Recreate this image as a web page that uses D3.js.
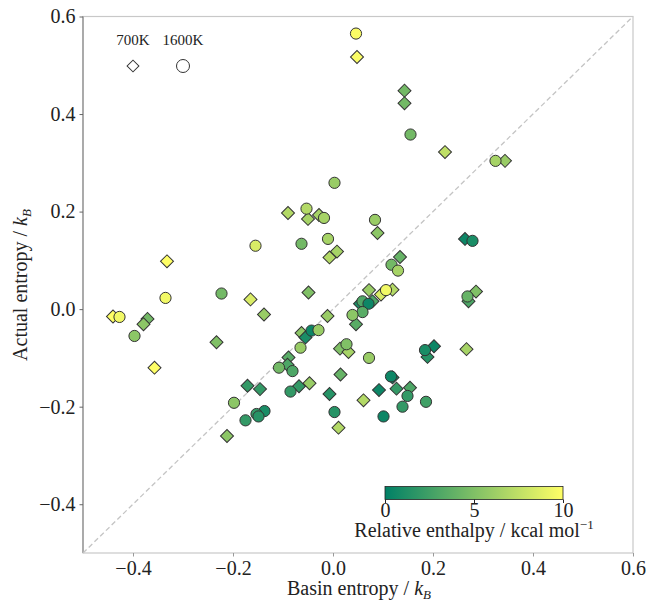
<!DOCTYPE html>
<html>
<head>
  <meta charset="utf-8">
  <title>Basin vs actual entropy</title>
  <script src="https://d3js.org/d3.v7.min.js"></script>
  <style>
    body, html { margin: 0; padding: 0; background: #fff; }
    svg { display: block; }
    text { font-family: "Liberation Serif", "DejaVu Serif", serif; fill: #222; }
  </style>
</head>
<body>
<svg width="646" height="602"></svg>
<script>
  // [basin entropy, actual entropy, relative enthalpy]
  const points700 = [
    [0.048, 0.517, 9.8], [0.143, 0.448, 4.5], [0.143, 0.422, 4.5], [0.224, 0.322, 7.5],
    [0.344, 0.304, 6.0], [-0.09, 0.197, 7.0], [-0.05, 0.185, 6.5], [-0.028, 0.193, 6.5],
    [0.008, 0.118, 6.5], [-0.007, 0.106, 7.0], [0.089, 0.156, 5.5], [0.264, 0.144, 0.5],
    [0.134, 0.107, 4.0], [-0.332, 0.098, 10], [-0.049, 0.034, 5.0], [-0.165, 0.020, 8.5],
    [-0.138, -0.011, 6.0], [-0.44, -0.015, 10], [-0.371, -0.020, 4.5], [-0.379, -0.031, 5.5],
    [-0.233, -0.068, 5.0], [-0.357, -0.120, 10], [-0.011, -0.014, 6.0], [-0.063, -0.049, 5.5],
    [-0.055, -0.058, 1.0], [0.014, -0.081, 5.0], [0.031, -0.088, 6.5], [-0.089, -0.099, 3.5],
    [-0.091, -0.114, 3.0], [0.015, -0.134, 4.0], [-0.171, -0.157, 2.0], [-0.146, -0.164, 2.0],
    [-0.068, -0.158, 2.0], [-0.047, -0.152, 6.0], [-0.007, -0.174, 1.5], [-0.212, -0.260, 5.5],
    [0.011, -0.243, 7.0], [0.072, 0.039, 6.0], [0.096, 0.030, 8.5], [0.119, 0.040, 7.0],
    [0.054, 0.011, 1.0], [0.079, 0.016, 3.0], [0.046, -0.031, 3.5], [0.286, 0.036, 5.0],
    [0.271, 0.016, 3.0], [0.202, -0.076, 0.5], [0.189, -0.098, 1.5], [0.267, -0.082, 6.5],
    [0.119, -0.140, 0.5], [0.092, -0.166, 0.5], [0.127, -0.163, 2.0], [0.154, -0.161, 3.0],
    [0.061, -0.187, 7.0]
  ];
  const points1600 = [
    [0.046, 0.565, 9.8], [0.155, 0.358, 4.5], [0.325, 0.304, 6.5], [0.003, 0.259, 6.0],
    [-0.053, 0.206, 7.0], [-0.018, 0.187, 6.5], [-0.155, 0.130, 8.5], [-0.063, 0.134, 4.5],
    [-0.01, 0.144, 6.5], [0.084, 0.183, 6.0], [0.279, 0.140, 1.0], [0.117, 0.091, 4.5],
    [0.130, 0.079, 6.5], [-0.223, 0.032, 4.5], [-0.335, 0.023, 9.5], [-0.427, -0.016, 9.5],
    [-0.397, -0.055, 5.5], [-0.043, -0.044, 0.5], [-0.029, -0.043, 6.0], [-0.065, -0.079, 6.0],
    [0.027, -0.072, 5.0], [-0.108, -0.120, 4.5], [-0.081, -0.127, 3.0], [-0.085, -0.169, 2.0],
    [-0.198, -0.192, 5.5], [-0.137, -0.209, 1.0], [-0.153, -0.215, 2.0], [-0.149, -0.220, 1.5],
    [-0.175, -0.228, 2.0], [0.003, -0.211, 1.5], [0.106, 0.039, 9.5], [0.059, 0.016, 3.0],
    [0.071, 0.011, 0.5], [0.059, -0.006, 3.5], [0.039, -0.012, 5.5], [0.269, 0.026, 4.0],
    [0.072, -0.100, 6.0], [0.184, -0.084, 1.0], [0.116, -0.138, 0.5], [0.149, -0.178, 2.0],
    [0.186, -0.190, 2.5], [0.139, -0.200, 2.0], [0.101, -0.220, 0.5]
  ];
  const ticks = [-0.4, -0.2, 0.0, 0.2, 0.4, 0.6];
  const cbarTicks = [0, 5, 10];
  const legendItems = [["700K", "diamond"], ["1600K", "circle"]];

  const svg = d3.select("svg");
  const plotL = 83, plotR = 633, plotT = 16.5, plotB = 553;
  const FS = 20;

  const x = d3.scaleLinear().domain([-0.5, 0.6]).range([plotL, plotR]);
  const y = d3.scaleLinear().domain([-0.5, 0.6]).range([plotB, plotT]);
  // matplotlib "summer"
  const summer = t => d3.rgb(255 * t, 128 + 127 * t, 102);
  const color = d3.scaleLinear().domain([0, 10]).range([0, 1]).clamp(true);
  const fmt = v => d3.format(".1f")(v).replace("-", "\u2212");

  // frame
  svg.append("rect").attr("x", plotL).attr("y", plotT)
    .attr("width", plotR - plotL).attr("height", plotB - plotT)
    .attr("fill", "none").attr("stroke", "#c8c8c8").attr("stroke-width", 1.2);
  svg.append("line").attr("x1", plotL).attr("x2", plotL).attr("y1", plotT).attr("y2", plotB)
    .attr("stroke", "#888").attr("stroke-width", 1.2);

  // diagonal
  svg.append("line")
    .attr("x1", x(-0.5)).attr("y1", y(-0.5)).attr("x2", x(0.6)).attr("y2", y(0.6))
    .attr("stroke", "#c4c4c4").attr("stroke-width", 1.3).attr("stroke-dasharray", "5,3");

  // axes
  const xAxis = svg.append("g").attr("transform", `translate(0,${plotB})`)
    .call(d3.axisBottom(x).tickValues(ticks).tickFormat(fmt).tickSize(3.5).tickPadding(4));
  const yAxis = svg.append("g").attr("transform", `translate(${plotL},0)`)
    .call(d3.axisLeft(y).tickValues(ticks).tickFormat(fmt).tickSize(3.5).tickPadding(4));
  [xAxis, yAxis].forEach(a => {
    a.select(".domain").remove();
    a.selectAll("text").attr("font-size", FS).attr("font-family", null).attr("fill", "#222");
  });
  xAxis.selectAll("line").attr("stroke", "#999");
  yAxis.selectAll("line").attr("stroke", "#666");

  const diamond = d3.symbol().type(d3.symbolSquare).size(84)();
  const g = svg.append("g");
  g.selectAll(".d700").data(points700).join("path")
    .attr("class", "d700")
    .attr("d", diamond)
    .attr("transform", d => `translate(${x(d[0])},${y(d[1])}) rotate(45)`)
    .attr("fill", d => summer(color(d[2])))
    .attr("stroke", "#333").attr("stroke-width", 1);
  g.selectAll(".c1600").data(points1600).join("circle")
    .attr("class", "c1600")
    .attr("cx", d => x(d[0])).attr("cy", d => y(d[1])).attr("r", 5.6)
    .attr("fill", d => summer(color(d[2])))
    .attr("stroke", "#333").attr("stroke-width", 1);

  // legend
  const leg = svg.append("g");
  legendItems.forEach(([label, shape], i) => {
    const cx = 133 + i * 50;
    leg.append("text").attr("x", cx).attr("y", 45).attr("text-anchor", "middle")
      .attr("font-size", 15).text(label);
    if (shape === "diamond") {
      leg.append("path").attr("d", d3.symbol().type(d3.symbolSquare).size(70)())
        .attr("transform", `translate(${cx},66) rotate(45)`)
        .attr("fill", "#fff").attr("stroke", "#333").attr("stroke-width", 1);
    } else {
      leg.append("circle").attr("cx", cx).attr("cy", 66).attr("r", 6.5)
        .attr("fill", "#fff").attr("stroke", "#333").attr("stroke-width", 1);
    }
  });

  // colorbar
  const cb = { x: 385, y: 486.5, w: 178, h: 13 };
  const defs = svg.append("defs");
  const grad = defs.append("linearGradient").attr("id", "summer");
  d3.range(0, 1.01, 0.1).forEach(t => {
    grad.append("stop").attr("offset", t).attr("stop-color", summer(t));
  });
  svg.append("rect").attr("x", cb.x).attr("y", cb.y).attr("width", cb.w).attr("height", cb.h)
    .attr("fill", "url(#summer)").attr("stroke", "#222").attr("stroke-width", 0.8);
  const cbx = d3.scaleLinear().domain([0, 10]).range([cb.x, cb.x + cb.w]);
  const cAxis = svg.append("g").attr("transform", `translate(0,${cb.y + cb.h})`)
    .call(d3.axisBottom(cbx).tickValues(cbarTicks).tickSize(3.5).tickPadding(0));
  cAxis.select(".domain").remove();
  cAxis.selectAll("text").attr("font-size", FS).attr("font-family", null).attr("fill", "#222");
  cAxis.selectAll("line").attr("stroke", "#222");
  const cl = svg.append("text").attr("x", 474).attr("y", 537).attr("text-anchor", "middle")
    .attr("font-size", FS);
  cl.append("tspan").text("Relative enthalpy / kcal mol");
  cl.append("tspan").attr("dy", -8).attr("font-size", 13).text("\u22121");

  // axis titles
  const xl = svg.append("text").attr("x", 359).attr("y", 595).attr("text-anchor", "middle")
    .attr("font-size", FS);
  xl.append("tspan").text("Basin entropy / ");
  xl.append("tspan").attr("font-style", "italic").text("k");
  xl.append("tspan").attr("font-style", "italic").attr("font-size", 13).attr("dy", 4).text("B");

  const yl = svg.append("text").attr("transform", "translate(27,285) rotate(-90)")
    .attr("text-anchor", "middle").attr("font-size", FS);
  yl.append("tspan").text("Actual entropy / ");
  yl.append("tspan").attr("font-style", "italic").text("k");
  yl.append("tspan").attr("font-style", "italic").attr("font-size", 13).attr("dy", 4).text("B");
</script>
</body>
</html>
